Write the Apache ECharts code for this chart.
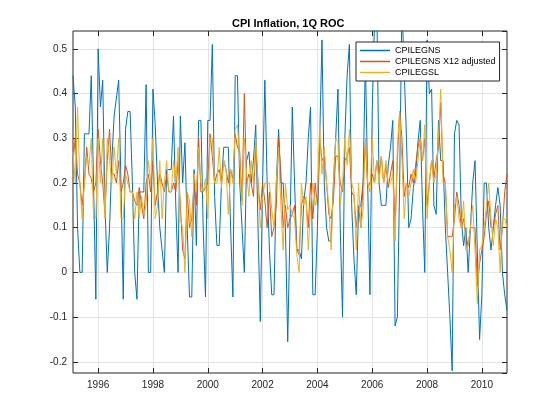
<!DOCTYPE html>
<html>
<head>
<meta charset="utf-8">
<script src="https://cdn.jsdelivr.net/npm/echarts@6/dist/echarts.min.js"></script>
<style>
  html, body { margin: 0; padding: 0; background: #fff; }
  #main { width: 560px; height: 420px; }
</style>
</head>
<body>
<div id="main"></div>
<script>
// monthly, Feb 1995 .. Dec 2010
var startYear = 1995, startMonth = 2, monthCount = 191;
var tickYears = ['1996', '1998', '2000', '2002', '2004', '2006', '2008', '2010'];

var cpilegns = [
  0.44, 0.37, 0.10, 0.00, 0.00, 0.31, 0.31, 0.31, 0.44, 0.20, -0.06,
  0.50, 0.37, 0.43, 0.15, 0.00, 0.10, 0.25, 0.35, 0.39, 0.43, 0.20, -0.06,
  0.32, 0.36, 0.36, 0.20, 0.00, -0.06, 0.18, 0.18, 0.18, 0.42, 0.00, 0.00,
  0.41, 0.33, 0.20, 0.10, 0.05, 0.00, 0.23, 0.23, 0.23, 0.35, 0.15, 0.00,
  0.35, 0.20, 0.29, 0.10, -0.055, -0.055, 0.23, 0.06, 0.34, 0.34, 0.10, -0.055,
  0.34, 0.34, 0.51, 0.17, 0.06, 0.06, 0.20, 0.28, 0.28, 0.28, 0.10, -0.055,
  0.44, 0.44, 0.20, 0.10, 0.00, 0.25, 0.27, 0.20, 0.25, 0.33, 0.10, -0.11,
  0.20, 0.43, 0.20, 0.05, -0.05, -0.05, 0.20, 0.32, 0.20, 0.20, 0.10, -0.155,
  0.10, 0.37, 0.20, 0.05, 0.05, 0.03, 0.16, 0.20, 0.30, 0.37, -0.05, -0.05,
  0.10, 0.30, 0.52, 0.20, 0.10, 0.07, 0.07, 0.20, 0.30, 0.41, 0.10, -0.10,
  0.30, 0.44, 0.51, 0.15, 0.03, -0.05, 0.14, 0.15, 0.20, 0.48, 0.20, -0.05,
  0.36, 0.56, 0.60, 0.20, 0.15, 0.15, 0.15, 0.24, 0.28, 0.34, -0.12, -0.10,
  0.20, 0.60, 0.45, 0.30, 0.10, 0.12, 0.19, 0.22, 0.29, 0.34, 0.15, 0.00,
  0.52, 0.40, 0.41, 0.15, 0.13, 0.34, 0.25, 0.25, 0.10, 0.00, -0.10, -0.22,
  0.31, 0.34, 0.33, 0.12, 0.06, 0.10, 0.00, 0.10, 0.20, 0.25, 0.05, -0.15,
  -0.05, 0.20, 0.20, 0.10, 0.05, 0.10, 0.15, 0.19, 0.15, 0.00, -0.05, -0.085
];
var cpilegnsX12 = [
  0.25, 0.30, 0.22, 0.20, 0.15, 0.20, 0.28, 0.22, 0.21, 0.18, 0.20,
  0.32, 0.25, 0.20, 0.13, 0.25, 0.32, 0.22, 0.22, 0.20, 0.25, 0.18, 0.20,
  0.24, 0.22, 0.18, 0.18, 0.16, 0.15, 0.19, 0.15, 0.12, 0.20, 0.22, 0.18,
  0.25, 0.15, 0.18, 0.22, 0.20, 0.18, 0.22, 0.18, 0.18, 0.20, 0.18, 0.25,
  0.15, 0.05, 0.03, 0.18, 0.10, 0.12, 0.20, 0.15, 0.30, 0.18, 0.18, 0.19,
  0.20, 0.31, 0.26, 0.20, 0.22, 0.23, 0.20, 0.25, 0.23, 0.20, 0.23, 0.21,
  0.31, 0.28, 0.27, 0.16, 0.40, 0.20, 0.22, 0.20, 0.17, 0.28, 0.20, 0.14,
  0.20, 0.16, 0.10, 0.18, 0.08, 0.10, 0.15, 0.30, 0.22, 0.10, 0.15, 0.10,
  0.12, 0.13, 0.15, 0.05, 0.04, 0.15, 0.17, 0.16, 0.10, 0.20, 0.12, 0.20,
  0.15, 0.30, 0.25, 0.26, 0.20, 0.13, 0.12, 0.16, 0.26, 0.26, 0.20, 0.18,
  0.25, 0.26, 0.28, 0.18, 0.17, 0.10, 0.15, 0.10, 0.20, 0.29, 0.19, 0.20,
  0.22, 0.20, 0.25, 0.22, 0.26, 0.20, 0.24, 0.19, 0.22, 0.25, 0.10, 0.25,
  0.36, 0.30, 0.17, 0.20, 0.19, 0.22, 0.20, 0.24, 0.28, 0.30, 0.25, 0.30,
  0.15, 0.20, 0.25, 0.21, 0.25, 0.28, 0.38, 0.22, 0.20, 0.08, 0.08, 0.08,
  0.12, 0.18, 0.15, 0.10, 0.12, 0.08, 0.06, 0.10, 0.10, 0.10, -0.03, 0.02,
  0.05, 0.08, 0.13, 0.16, 0.10, 0.10, 0.13, 0.15, 0.05, 0.10, 0.18, 0.22
];
var cpilegsl = [
  0.27, 0.20, 0.37, 0.20, 0.12, 0.20, 0.26, 0.24, 0.30, 0.12, 0.12,
  0.30, 0.20, 0.30, 0.12, 0.30, 0.25, 0.20, 0.28, 0.22, 0.30, 0.12, 0.12,
  0.22, 0.20, 0.18, 0.18, 0.12, 0.18, 0.12, 0.17, 0.13, 0.15, 0.25, 0.20,
  0.30, 0.12, 0.15, 0.25, 0.12, 0.20, 0.25, 0.18, 0.18, 0.25, 0.20, 0.28,
  0.12, 0.10, 0.00, 0.18, 0.16, 0.08, 0.22, 0.18, 0.28, 0.20, 0.18, 0.21,
  0.12, 0.30, 0.30, 0.20, 0.20, 0.28, 0.19, 0.25, 0.23, 0.13, 0.23, 0.20,
  0.32, 0.33, 0.25, 0.15, 0.30, 0.22, 0.17, 0.25, 0.20, 0.30, 0.20, 0.10,
  0.17, 0.20, 0.20, 0.20, 0.14, 0.10, 0.20, 0.28, 0.15, 0.05, 0.20, 0.14,
  0.15, 0.13, 0.12, 0.04, 0.00, 0.20, 0.15, 0.17, 0.05, 0.15, 0.20, 0.15,
  0.17, 0.33, 0.22, 0.28, 0.20, 0.15, 0.05, 0.20, 0.30, 0.29, 0.15, 0.20,
  0.30, 0.24, 0.32, 0.20, 0.18, 0.05, 0.20, 0.10, 0.14, 0.30, 0.20, 0.18,
  0.30, 0.20, 0.25, 0.20, 0.26, 0.20, 0.25, 0.20, 0.20, 0.22, 0.07, 0.28,
  0.36, 0.25, 0.12, 0.20, 0.17, 0.20, 0.23, 0.20, 0.25, 0.30, 0.25, 0.33,
  0.12, 0.20, 0.25, 0.20, 0.22, 0.30, 0.41, 0.20, 0.20, 0.08, 0.05, 0.00,
  0.15, 0.17, 0.12, 0.10, 0.16, 0.05, 0.06, 0.10, 0.15, 0.05, -0.07, 0.05,
  0.06, 0.10, 0.15, 0.20, 0.12, 0.06, 0.12, 0.10, 0.00, 0.12, 0.12, 0.10
];

var months = [];
for (var k = 0; k < monthCount; k++) {
    var m = startMonth - 1 + k;
    var yy = startYear + Math.floor(m / 12);
    var mm = (m % 12) + 1;
    months.push(yy + '-' + (mm < 10 ? '0' + mm : mm));
}
function isTick(index, value) {
    return value.slice(5) === '01' && tickYears.indexOf(value.slice(0, 4)) >= 0;
}

var textColor = '#262626';
var fontName = 'Liberation Sans, Arial, Helvetica, sans-serif';

var myChart = echarts.init(document.getElementById('main'));
var option = {
    backgroundColor: '#ffffff',
    animation: false,
    color: ['#0072BD', '#D95319', '#EDB120'],
    title: {
        text: 'CPI Inflation, 1Q ROC',
        left: 227,
        top: 13,
        textStyle: { fontFamily: fontName, fontSize: 11, fontWeight: 'bold', color: '#000' }
    },
    legend: {
        orient: 'vertical',
        left: 356,
        top: 42,
        padding: [3, 4, 3, 4],
        itemGap: 0,
        itemWidth: 30,
        itemHeight: 1.5,
        icon: 'rect',
        backgroundColor: '#fff',
        borderColor: '#262626',
        borderWidth: 1,
        borderRadius: 0,
        textStyle: { fontFamily: fontName, fontSize: 9, lineHeight: 11, color: '#000' },
        data: ['CPILEGNS', 'CPILEGNS X12 adjusted', 'CPILEGSL']
    },
    grid: {
        left: 73, right: 53, top: 31, bottom: 47,
        show: true,
        borderColor: textColor,
        borderWidth: 1,
        backgroundColor: '#fff'
    },
    xAxis: [{
        type: 'category',
        data: months,
        boundaryGap: false,
        axisLine: { show: false, onZero: false },
        axisTick: { inside: true, length: 5, interval: isTick, lineStyle: { color: textColor } },
        axisLabel: {
            interval: isTick,
            formatter: function (v) { return v.slice(0, 4); },
            fontFamily: fontName, fontSize: 10, color: textColor, margin: 7
        },
        splitLine: { show: true, interval: isTick, lineStyle: { color: '#e3e3e3', width: 1 } }
    }, {
        type: 'category',
        data: months,
        position: 'top',
        boundaryGap: false,
        axisLine: { show: false, onZero: false },
        axisTick: { inside: true, length: 5, interval: isTick, lineStyle: { color: textColor } },
        axisLabel: { show: false },
        splitLine: { show: false }
    }],
    yAxis: [{
        type: 'value',
        min: -0.225,
        max: 0.54,
        splitNumber: 8,
        axisLine: { show: false, onZero: false },
        axisTick: { show: true, inside: true, length: 5, lineStyle: { color: textColor } },
        axisLabel: {
            showMinLabel: false, showMaxLabel: false,
            fontFamily: fontName, fontSize: 10, color: textColor, margin: 6
        },
        splitLine: { show: true, showMinLine: false, showMaxLine: false, lineStyle: { color: '#e3e3e3', width: 1 } }
    }, {
        type: 'value',
        min: -0.225,
        max: 0.54,
        splitNumber: 8,
        position: 'right',
        axisLine: { show: false, onZero: false },
        axisTick: { show: true, inside: true, length: 5, lineStyle: { color: textColor } },
        axisLabel: { show: false },
        splitLine: { show: false }
    }],
    series: [
        {
            name: 'CPILEGNS',
            type: 'line',
            data: cpilegns,
            symbol: 'none',
            lineStyle: { width: 1 },
            z: 3
        },
        {
            name: 'CPILEGNS X12 adjusted',
            type: 'line',
            data: cpilegnsX12,
            symbol: 'none',
            lineStyle: { width: 1 },
            z: 4
        },
        {
            name: 'CPILEGSL',
            type: 'line',
            data: cpilegsl,
            symbol: 'none',
            lineStyle: { width: 1 },
            z: 5
        }
    ]
};
myChart.setOption(option);
</script>
</body>
</html>
